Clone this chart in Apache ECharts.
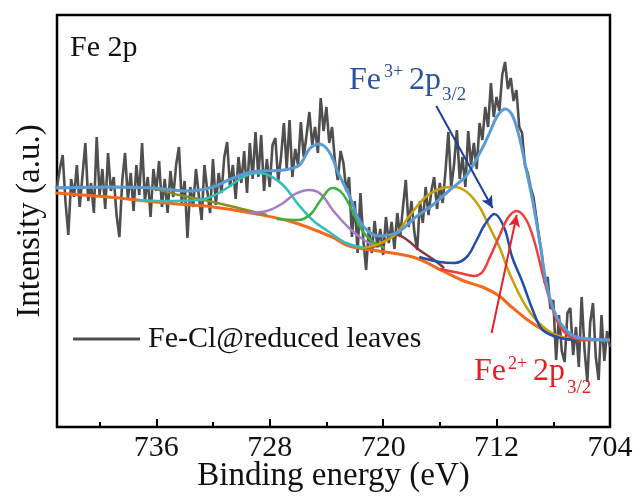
<!DOCTYPE html>
<html>
<head>
<meta charset="utf-8">
<script src="https://cdn.jsdelivr.net/npm/echarts@6/dist/echarts.min.js"></script>
<style>
html, body { margin: 0; padding: 0; background: #fff; }
#chart { width: 633px; height: 496px; }
</style>
</head>
<body>
<div id="chart"></div>
<script>
// Fe 2p XPS spectrum, binding energy (eV) vs intensity (a.u.)
const xTicks = [736, 728, 720, 712, 704];

const rawCounts = [
    [743.0,240],[742.8,258],[742.6,272],[742.4,225],[742.2,192],[742.0,248],[741.8,230],[741.6,262],[741.4,220],[741.2,252],
    [741.0,284],[740.8,226],[740.6,244],[740.4,214],[740.2,290],[740.0,232],[739.8,258],[739.6,218],[739.4,274],[739.2,236],
    [739.0,250],[738.8,212],[738.6,190],[738.4,246],[738.2,274],[738.0,228],[737.8,254],[737.6,216],[737.4,262],[737.2,232],
    [737.0,284],[736.8,226],[736.6,250],[736.4,210],[736.2,258],[736.0,236],[735.8,266],[735.6,220],[735.4,248],[735.2,214],
    [735.0,256],[734.8,230],[734.6,262],[734.4,280],[734.2,224],[734.0,246],[733.8,189],[733.6,240],[733.4,220],[733.2,258],
    [733.0,232],[732.8,207],[732.6,262],[732.4,236],[732.2,214],[732.0,268],[731.8,222],[731.6,254],[731.4,234],[731.2,270],
    [731.0,285],[730.8,240],[730.6,262],[730.4,228],[730.2,270],[730.0,244],[729.8,276],[729.6,234],[729.4,284],[729.2,248],
    [729.0,295],[728.8,250],[728.6,292],[728.4,236],[728.2,268],[728.0,240],[727.8,282],[727.6,289],[727.4,246],[727.2,270],
    [727.0,304],[726.8,258],[726.6,307],[726.4,250],[726.2,278],[726.0,262],[725.8,305],[725.6,270],[725.4,292],[725.2,315],
    [725.0,282],[724.8,300],[724.6,274],[724.4,329],[724.2,296],[724.0,320],[723.8,284],[723.6,300],[723.4,266],[723.2,247],
    [723.0,276],[722.8,264],[722.6,236],[722.4,250],[722.2,190],[722.0,226],[721.8,174],[721.6,234],[721.4,188],[721.2,157],
    [721.0,200],[720.8,174],[720.6,206],[720.4,180],[720.2,198],[720.0,172],[719.8,210],[719.6,184],[719.4,205],[719.2,178],
    [719.0,214],[718.8,190],[718.6,220],[718.4,247],[718.2,200],[718.0,226],[717.8,195],[717.6,177],[717.4,226],[717.2,204],
    [717.0,240],[716.8,212],[716.6,236],[716.4,250],[716.2,218],[716.0,244],[715.8,224],[715.6,256],[715.4,295],[715.2,240],
    [715.0,262],[714.8,297],[714.6,248],[714.4,270],[714.2,240],[714.0,296],[713.8,262],[713.6,284],[713.4,258],[713.2,304],
    [713.0,287],[712.8,320],[712.6,300],[712.4,344],[712.2,310],[712.0,330],[711.8,316],[711.6,352],[711.4,365],[711.2,338],
    [711.0,349],[710.8,326],[710.6,337],[710.4,300],[710.2,294],[710.0,262],[709.8,254],[709.6,240],[709.4,230],[709.2,210],
    [709.0,190],[708.8,172],[708.6,144],[708.4,150],[708.2,118],[708.0,127],[707.8,67],[707.6,112],[707.4,76],[707.2,65],
    [707.0,114],[706.8,119],[706.6,72],[706.4,100],[706.2,60],[706.0,130],[705.8,78],[705.6,45],[705.4,104],[705.2,124],
    [705.0,70],[704.8,47],[704.6,112],[704.4,66],[704.2,96],[704.0,80]
];

const envelope = [
    [743.1,239],[739.4,240],[736.2,239],[733.7,236],[732.0,240],[730.9,247],[729.3,255],[727.0,257],[725.9,262],[725.2,278],
    [724.5,283],[723.8,275],[723.1,252],[722.4,232],[721.7,207],[721.0,195],[720.3,191],[719.6,192],[718.9,195],[717.7,210],
    [716.5,222],[715.3,237],[714.1,252],[713.0,279],[712.5,294],[712.1,307],[711.8,314],[711.4,318],[710.9,312],[710.4,290],
    [709.9,257],[709.4,222],[708.9,180],[708.5,144],[708.0,118],[707.5,104],[706.8,93],[706.1,89],[704.0,87]
];

const background = [
    [743.1,234],[739.4,230],[735.3,224],[732.0,220],[729.3,214],[726.4,205],[723.6,190],[722.4,181],[720.3,176],[717.7,169],
    [715.8,156],[714.3,146],[713.0,140],[711.8,131],[711.1,122],[709.9,108],[708.7,97],[707.5,90],[706.1,87],[704.0,87]
];

const peakSat1 = [[743.1,239],[739.4,240],[736.6,239],[734.4,232],[732.0,225],[730.2,219],[728.8,214],[728.2,212]];
const peakSat2 = [[737.3,227],[735.5,226],[733.0,227],[732.0,231],[730.9,240],[730.0,249],[729.0,254],[728.1,252],[727.0,241],
    [725.95,222],[724.9,206],[723.8,195],[722.6,184],[721.35,179]];
const peakSat3 = [[729.5,214],[728.2,216],[727.15,223],[726.2,233],[725.2,237],[724.4,233],[723.5,216],[722.4,199],[721.35,187],[720.3,180]];
const peakSat4 = [[727.5,208],[725.95,207],[725.1,213],[724.4,227],[723.6,239],[722.9,234],[722.2,217],[721.5,197],[720.8,186],[719.9,179]];
const peakSat5 = [[721.35,179],[720.3,182],[719.6,189],[719.0,192],[718.3,187],[717.45,177],[716.4,167],[715.7,159]];
const peakSat6 = [[721.35,179],[720.3,183],[719.1,193],[718.2,210],[717.0,230],[715.8,239],[715.0,240],[714.1,235],[713.2,220],
    [712.5,200],[711.8,180],[711.1,154],[709.9,120],[708.7,100],[707.5,90],[706.1,87]];
const peakFe3 = [[717.45,170],[716.0,165],[715.0,164],[714.1,170],[713.4,187],[712.85,202],[712.15,213],[711.45,199],[710.9,170],
    [710.15,144],[709.45,117],[708.75,97],[707.5,89],[706.1,87]];
const peakFe2 = [[716.0,158],[714.6,154],[713.6,151],[713.0,155],[712.5,169],[711.8,191],[711.2,209],[710.6,216],[709.9,207],
    [709.3,184],[708.7,150],[708.1,120],[707.5,100],[706.6,89],[705.4,87]];

// arrow ends for the two labels
const arrowFe3 = [[716.25, 321], [712.28, 219]];
const arrowFe2 = [[712.35, 94], [710.58, 212]];

const serif = 'Liberation Serif';
const chart = echarts.init(document.getElementById('chart'));

function fitLine(name, data, color, width) {
    return {
        name: name,
        type: 'line',
        data: data,
        smooth: 0.35,
        showSymbol: false,
        lineStyle: { color: color, width: width || 2.5 },
        itemStyle: { color: color },
        z: 3
    };
}

function arrow(pts, color) {
    return {
        silent: true,
        symbol: ['none', 'arrow'],
        symbolSize: [9, 12],
        label: { show: false },
        lineStyle: { color: color, width: 2, type: 'solid' },
        data: [[{ coord: pts[0] }, { coord: pts[1] }]]
    };
}

function txt(str, x, y, size, color) {
    return {
        type: 'text',
        style: {
            text: str, x: x, y: y,
            font: size + 'px "' + serif + '"',
            fill: color,
            align: 'left', textAlign: 'left',
            verticalAlign: 'middle', textVerticalAlign: 'middle'
        },
        z: 10
    };
}

const blueSeries = fitLine('fe3', peakFe3, '#1F4EAD');
blueSeries.markLine = arrow(arrowFe3, '#1E3F9A');
const redSeries = fitLine('fe2', peakFe2, '#EE3D3D');
redSeries.markLine = arrow(arrowFe2, '#E8202A');

const option = {
    animation: false,
    backgroundColor: '#fff',
    grid: {
        left: 57, right: 23, top: 15, bottom: 69,
        containLabel: false, outerBoundsMode: 'none',
        show: true, borderColor: '#000', borderWidth: 2.5
    },
    legend: {
        left: 68, top: 319,
        data: [{ name: 'Fe-Cl@reduced leaves', icon: 'rect' }],
        itemWidth: 67, itemHeight: 3,
        textStyle: { fontFamily: serif, fontSize: 30, color: '#111', padding: [0, 0, 0, 3] }
    },
    xAxis: [{
        type: 'value', min: 704, max: 743, interval: 8, inverse: true,
        name: 'Binding energy (eV)', nameLocation: 'middle', nameGap: 33, nameMoveOverlap: false,
        nameTextStyle: { fontFamily: serif, fontSize: 33, color: '#111' },
        axisLine: { show: false },
        axisTick: { inside: true, length: 8, lineStyle: { color: '#000', width: 2 } },
        axisLabel: {
            fontFamily: serif, fontSize: 30, color: '#111', margin: 6, showMaxLabel: false,
            formatter: v => xTicks.indexOf(v) >= 0 ? String(v) : ''
        },
        splitLine: { show: false }
    }, {
        type: 'value', min: 704, max: 743, interval: 4, inverse: true, position: 'bottom',
        axisLine: { show: false },
        axisTick: { inside: true, length: 5, lineStyle: { color: '#000', width: 2 } },
        axisLabel: { show: false },
        splitLine: { show: false }
    }],
    yAxis: {
        type: 'value', min: 0, max: 412,
        name: 'Intensity (a.u.)', nameLocation: 'middle', nameGap: 10, nameMoveOverlap: false,
        nameTextStyle: { fontFamily: serif, fontSize: 33, color: '#111' },
        axisLine: { show: false }, axisTick: { show: false },
        axisLabel: { show: false }, splitLine: { show: false }
    },
    graphic: [
        txt('Fe 2p', 70, 48, 30, '#111'),
        txt('Fe', 349, 81, 32, '#2D50A0'),
        txt('3+', 384, 72, 18, '#2D50A0'),
        txt('2p', 409, 81, 32, '#2D50A0'),
        txt('3/2', 442, 95, 19, '#2D50A0'),
        txt('Fe', 474, 372, 32, '#E51E25'),
        txt('2+', 508, 364, 18, '#E51E25'),
        txt('2p', 533, 372, 32, '#E51E25'),
        txt('3/2', 567, 388, 19, '#E51E25')
    ],
    series: [
        {
            name: 'Fe-Cl@reduced leaves', type: 'line', data: rawCounts,
            showSymbol: false, lineStyle: { color: '#4F4F4F', width: 2.6 },
            itemStyle: { color: '#4F4F4F' }, z: 2
        },
        fitLine('bg', background, '#F26A1B', 3),
        fitLine('s1', peakSat1, '#8C8C28'),
        fitLine('s2', peakSat2, '#33BDBD'),
        fitLine('s3', peakSat3, '#A67BC8'),
        fitLine('s4', peakSat4, '#3FAF3F'),
        fitLine('s5', peakSat5, '#843A3A'),
        fitLine('s6', peakSat6, '#C9A00A'),
        blueSeries,
        redSeries,
        Object.assign(fitLine('env', envelope, '#5A9BD5', 3), { z: 4 })
    ]
};

chart.setOption(option);
</script>
</body>
</html>
